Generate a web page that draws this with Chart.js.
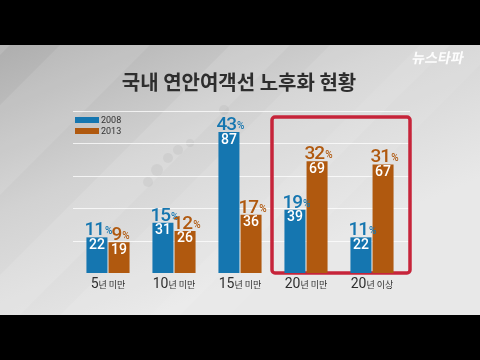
<!DOCTYPE html>
<html>
<head>
<meta charset="utf-8">
<script src="https://cdn.jsdelivr.net/npm/chart.js@4/dist/chart.umd.min.js"></script>
<style>
  body { margin: 0; background: #000; }
  canvas { display: block; }
</style>
</head>
<body>
<canvas id="barChartCanvas" width="480" height="360"></canvas>
<script>
const categories = ['5년 미만', '10년 미만', '15년 미만', '20년 미만', '20년 이상'];
const seriesNames = ['2008', '2013'];
const counts2008 = [22, 31, 87, 39, 22];
const counts2013 = [19, 26, 36, 69, 67];
const pct2008 = [11, 15, 43, 19, 11];
const pct2013 = [9, 12, 17, 32, 31];
const yTicks = [0, 20, 40, 60, 80, 100];

const blue = '#1576b0';
const orange = '#b0590f';
const numFont = 'Roboto, "Noto Sans CJK KR", sans-serif';
const krFont = '"Noto Sans CJK KR", sans-serif';

// gray 16:9 backdrop with diagonal streaks, title and logo
let backdrop = {
    id: 'backdrop',
    beforeDraw: function (chart) {
        let ctx = chart.ctx;
        ctx.save();
        ctx.fillStyle = '#000';
        ctx.fillRect(0, 0, 480, 360);
        let g = ctx.createLinearGradient(0, 45, 120, 330);
        g.addColorStop(0, '#aeaeae');
        g.addColorStop(0.5, '#d2d2d2');
        g.addColorStop(1, '#e8e8e8');
        ctx.fillStyle = g;
        ctx.fillRect(0, 45, 480, 270);
        ctx.beginPath();
        ctx.rect(0, 45, 480, 270);
        ctx.clip();
        // streaks
        let streaks = [[60, 0.10, 90], [230, 0.12, 60], [330, 0.10, 120], [-60, 0.12, 70], [420, 0.08, 80]];
        streaks.forEach(function (s) {
            ctx.fillStyle = 'rgba(255,255,255,' + s[1] + ')';
            ctx.beginPath();
            ctx.moveTo(s[0], 45);
            ctx.lineTo(s[0] + s[2], 45);
            ctx.lineTo(s[0] + s[2] - 270, 315);
            ctx.lineTo(s[0] - 270, 315);
            ctx.closePath();
            ctx.fill();
        });
        // faint dots
        ctx.fillStyle = 'rgba(130,130,130,0.10)';
        [[157, 170, 6], [168, 158, 5], [178, 150, 5], [190, 143, 4], [148, 182, 5], [224, 110, 5]].forEach(function (d) {
            ctx.beginPath();
            ctx.arc(d[0], d[1], d[2], 0, Math.PI * 2);
            ctx.fill();
        });
        ctx.restore();

        // title
        ctx.save();
        ctx.fillStyle = '#2e2e2e';
        ctx.font = 'bold 20px ' + krFont;
        ctx.textAlign = 'center';
        ctx.textBaseline = 'middle';
        ctx.fillText('국내 연안여객선 노후화 현황', 239, 82);
        // logo
        ctx.fillStyle = 'rgba(255,255,255,0.95)';
        ctx.font = 'bold 14px ' + krFont;
        ctx.textAlign = 'left';
        ctx.setTransform(1, 0, -0.2, 1, 12, 0);
        ctx.fillText('뉴스타파', 412, 58);
        ctx.restore();

        // legend
        ctx.save();
        let colors = [blue, orange];
        seriesNames.forEach(function (name, i) {
            let y = 117 + i * 11;
            ctx.fillStyle = colors[i];
            ctx.fillRect(75, y, 24, 6);
            ctx.fillStyle = '#333';
            ctx.font = '9px ' + numFont;
            ctx.textBaseline = 'middle';
            ctx.fillText(name, 101, y + 3.5);
        });
        ctx.restore();
    },
    beforeDatasetsDraw: function (chart) {
        let ctx = chart.ctx;
        let area = chart.chartArea;
        let yScale = chart.scales.y;
        ctx.save();
        // white grid lines
        ctx.strokeStyle = 'rgba(255,255,255,0.75)';
        ctx.lineWidth = 1;
        yTicks.forEach(function (v) {
            if (v === 0) return;
            let y = Math.round(yScale.getPixelForValue(v)) + 0.5;
            ctx.beginPath();
            ctx.moveTo(area.left - 2, y);
            ctx.lineTo(area.right + 5, y);
            ctx.stroke();
        });
        // red highlight box around the last two groups
        let xScale = chart.scales.x;
        let half = (xScale.getPixelForValue(1) - xScale.getPixelForValue(0)) / 2;
        let x1 = xScale.getPixelForValue(3) - half;
        let x2 = xScale.getPixelForValue(4) + half;
        ctx.strokeStyle = '#c6243a';
        ctx.lineWidth = 3.5;
        ctx.beginPath();
        ctx.roundRect(x1 - 1, 117, x2 - x1 + 6, area.bottom - 117, 3);
        ctx.stroke();
        ctx.restore();
    }
};

// percent above bars, count inside bars, category labels
let valueLabels = {
    id: 'valueLabels',
    afterDatasetsDraw: function (chart) {
        let ctx = chart.ctx;
        let pcts = [pct2008, pct2013];
        ctx.save();
        chart.data.datasets.forEach(function (ds, di) {
            let meta = chart.getDatasetMeta(di);
            meta.data.forEach(function (bar, i) {
                let p = String(pcts[di][i]);
                ctx.letterSpacing = '-1px';
                ctx.font = '500 19px ' + numFont;
                let w1 = ctx.measureText(p).width;
                ctx.letterSpacing = '0px';
                ctx.font = '500 10px ' + numFont;
                let w2 = ctx.measureText('%').width;
                let sx = bar.x - (w1 + w2) / 2 + 1;
                ctx.fillStyle = ds.backgroundColor;
                ctx.textBaseline = 'alphabetic';
                ctx.textAlign = 'left';
                ctx.letterSpacing = '-1px';
                ctx.font = '500 19px ' + numFont;
                ctx.fillText(p, sx, bar.y - 2);
                ctx.letterSpacing = '0px';
                ctx.font = '500 10px ' + numFont;
                ctx.fillText('%', sx + w1 + 1, bar.y - 3);

                ctx.fillStyle = '#ffffff';
                ctx.font = '500 14px ' + numFont;
                ctx.textAlign = 'center';
                ctx.textBaseline = 'top';
                ctx.fillText(String(ds.data[i]), bar.x, bar.y + 1);
            });
        });

        let xScale = chart.scales.x;
        categories.forEach(function (c, i) {
            let m = c.match(/^(\d+)(.*)$/);
            let x = xScale.getPixelForValue(i);
            ctx.font = '14px ' + numFont;
            let w1 = ctx.measureText(m[1]).width;
            ctx.font = '9px ' + krFont;
            let w2 = ctx.measureText(m[2]).width;
            let sx = x - (w1 + w2) / 2;
            ctx.fillStyle = '#2e2e2e';
            ctx.textAlign = 'left';
            ctx.textBaseline = 'alphabetic';
            ctx.font = '14px ' + numFont;
            ctx.fillText(m[1], sx, 288);
            ctx.font = '9px ' + krFont;
            ctx.fillText(m[2], sx + w1, 288);
        });
        ctx.restore();
    }
};

let ctx = document.getElementById('barChartCanvas').getContext('2d');
window.barChart = new Chart(ctx, {
    type: 'bar',
    data: {
        labels: categories,
        datasets: [
            { label: seriesNames[0], data: counts2008, backgroundColor: blue },
            { label: seriesNames[1], data: counts2013, backgroundColor: orange }
        ]
    },
    options: {
        responsive: false,
        animation: false,
        layout: { padding: { left: 75, right: 75, top: 111, bottom: 87 } },
        datasets: { bar: { categoryPercentage: 0.67, barPercentage: 0.95 } },
        scales: {
            x: { display: false },
            y: { display: false, min: 0, max: 100, ticks: { stepSize: 20 } }
        },
        plugins: {
            legend: { display: false },
            tooltip: { enabled: false }
        }
    },
    plugins: [backdrop, valueLabels]
});
</script>
</body>
</html>
